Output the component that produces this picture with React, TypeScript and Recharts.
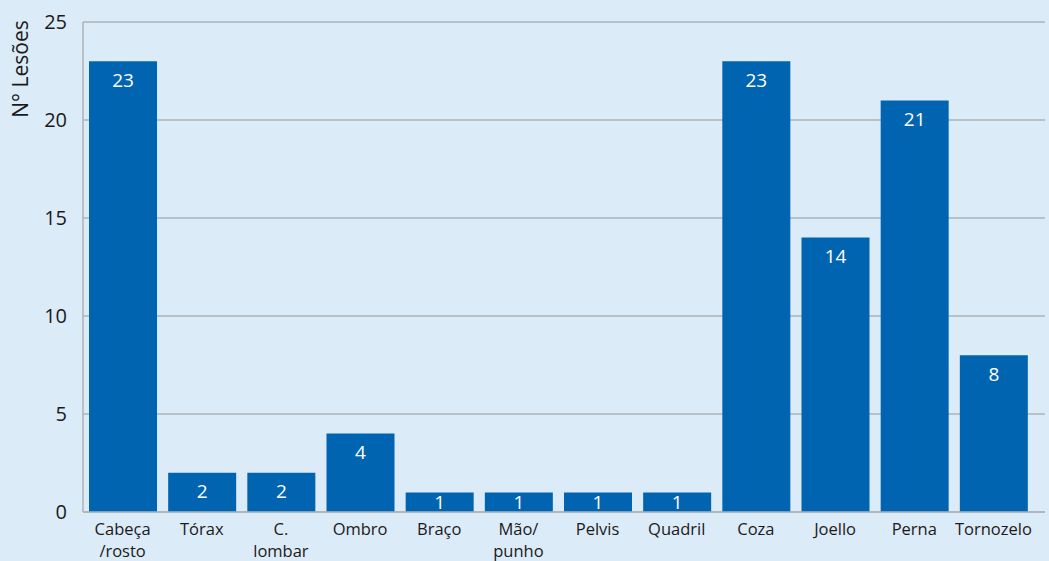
import { BarChart, Bar, XAxis, YAxis, CartesianGrid, LabelList } from 'recharts';

const categories = ['Cabeça\n/rosto', 'Tórax', 'C.\nlombar', 'Ombro', 'Braço', 'Mão/\npunho', 'Pelvis', 'Quadril', 'Coza', 'Joello', 'Perna', 'Tornozelo'];
const lesoes = [23, 2, 2, 4, 1, 1, 1, 1, 23, 14, 21, 8];
const yTicks = [0, 5, 10, 15, 20, 25];

const data = categories.map((name, i) => ({ name, value: lesoes[i] }));

const FONT = '"Open Sans", "Noto Sans", sans-serif';
const BG = '#dcebf8';
const BAR = '#0064b0';
const GRID = '#aeb3b8';

// each line of a category is its own text so they can sit close together
const XTick = ({ x, y, payload }: any) => {
  const lines = String(payload.value).split('\n');
  return (
    <g>
      {lines.map((l, i) => (
        <text key={i} x={x} y={y + 7 + i * 22} dy="0.71em" textAnchor="middle" fill="#1a1a1a" fontSize={16.5} fontFamily={FONT}>
          {l}
        </text>
      ))}
    </g>
  );
};

const ValueLabel = (props: any) => {
  const { x, y, width, height, value } = props;
  const cy = Math.min(y + 19, y + height / 2);
  return (
    <text x={x + width / 2} y={cy} dy="0.35em" textAnchor="middle" fill="#ffffff" fontSize={19} fontFamily={FONT}>
      {value}
    </text>
  );
};

const YTitle = (props: any) => {
  const { viewBox } = props;
  const cx = 21;
  const cy = viewBox.y + 47;
  return (
    <text x={cx} y={cy} transform={`rotate(-90 ${cx} ${cy})`} textAnchor="middle" dy="0.35em" fill="#1a1a1a" fontSize={21} fontFamily={FONT}>
      N° Lesões
    </text>
  );
};

export default function App() {
  return (
    <div style={{ position: 'absolute', left: 0, top: 0, width: 1049, height: 561, background: BG }}>
      <BarChart width={1049} height={561} data={data} margin={{ top: 22, right: 4, left: 0, bottom: 0 }}>
        <CartesianGrid horizontal vertical={false} stroke={GRID} strokeWidth={1.5} />
        <XAxis
          dataKey="name"
          height={49}
          interval={0}
          padding={{ left: 0, right: 12 }}
          axisLine={{ stroke: GRID, strokeWidth: 1.5 }}
          tickLine={false}
          tickSize={0}
          tickMargin={4}
          tick={<XTick />}
        />
        <YAxis
          width={83}
          domain={[0, 25]}
          ticks={yTicks}
          axisLine={{ stroke: GRID, strokeWidth: 1.5 }}
          tickLine={false}
          tickSize={0}
          tickMargin={16}
          tick={{ fill: '#1a1a1a', fontSize: 20, fontFamily: FONT }}
          label={<YTitle />}
        />
        <Bar dataKey="value" fill={BAR} barSize={68} isAnimationActive={false}>
          <LabelList dataKey="value" content={<ValueLabel />} />
        </Bar>
      </BarChart>
    </div>
  );
}
